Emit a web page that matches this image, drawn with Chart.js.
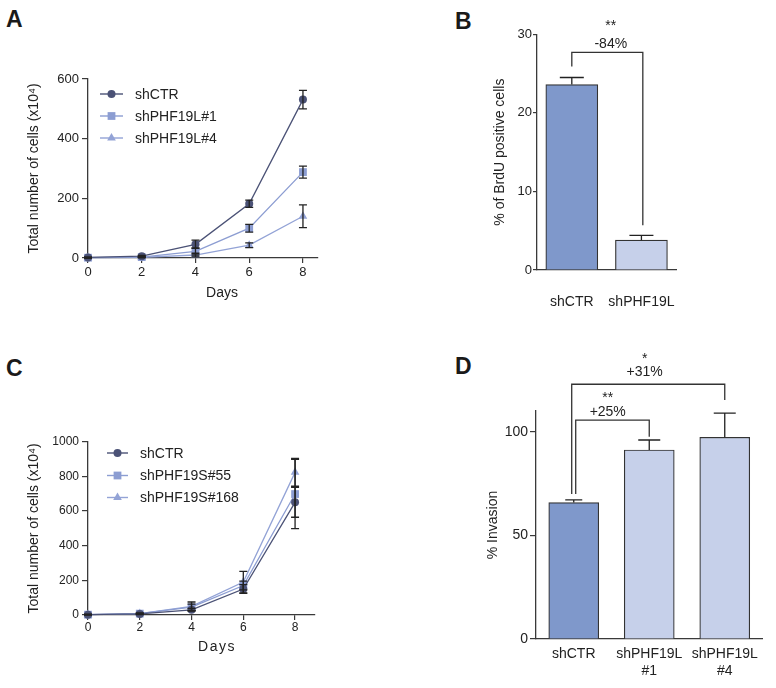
<!DOCTYPE html>
<html lang="en">
<head>
  <meta charset="UTF-8" />
  <title>PHF19 proliferation and invasion</title>
  <script src="https://cdn.jsdelivr.net/npm/chart.js"></script>
  <style>
    body { margin: 0; background: #fff; }
    #fig { position: relative; width: 776px; height: 688px; background: #fff; overflow: hidden; }
    #fig canvas { position: absolute; }
    .lbl { position: absolute; font: bold 23px "Liberation Sans", Arial, sans-serif; line-height: 23px; color: #1a1a1a; }
  </style>
</head>
<body>
  <div id="fig">
    <div class="lbl" style="left:6px;top:8px">A</div>
    <div class="lbl" style="left:455px;top:10px">B</div>
    <div class="lbl" style="left:6px;top:357px">C</div>
    <div class="lbl" style="left:455px;top:355px">D</div>
    <canvas id="chartA" width="340" height="260" style="left:0;top:50px"></canvas>
    <canvas id="chartB" width="260" height="320" style="left:440px;top:0"></canvas>
    <canvas id="chartC" width="340" height="260" style="left:0;top:400px"></canvas>
    <canvas id="chartD" width="336" height="348" style="left:440px;top:340px"></canvas>
  </div>

  <script>
    // ---- data ----
    const days = [0, 2, 4, 6, 8];

    // A: growth curves, PHF19L knockdown
    const aNames = ['shCTR', 'shPHF19L#1', 'shPHF19L#4'];
    const aCtr = [2, 6, 46, 182, 531];
    const aCtrErr = [1, 3, 14, 12, 31];
    const aL1 = [1, 3, 22, 100, 288];
    const aL1Err = [1, 2, 12, 13, 20];
    const aL4 = [1, 2, 10, 43, 140];
    const aL4Err = [1, 1, 6, 8, 38];

    // B: BrdU
    const bLabels = ['shCTR', 'shPHF19L'];
    const bValues = [23.6, 3.8];
    const bErr = [0.9, 0.6];

    // C: growth curves, PHF19S knockdown
    const cNames = ['shCTR', 'shPHF19S#55', 'shPHF19S#168'];
    const cCtr = [2, 6, 30, 150, 650];
    const cCtrErr = [1, 3, 8, 25, 86];
    const cS55 = [2, 8, 45, 170, 698];
    const cS55Err = [1, 3, 18, 25, 200];
    const cS168 = [2, 8, 50, 190, 823];
    const cS168Err = [1, 3, 25, 62, 80];

    // D: invasion
    const dLabels = [['shCTR'], ['shPHF19L', '#1'], ['shPHF19L', '#4']];
    const dValues = [65.8, 91.2, 97.3];
    const dErr = [1.3, 4.8, 11.7];

    // significance marks (data units)
    const bBrackets = [{ x1: 0, x2: 1.02, y1: 25.9, y2: 5.7, top: 27.7 }];
    const bNotes = [{ x: 0.56, y: 30.5, text: '**' }, { x: 0.56, y: 28.2, text: '-84%' }];
    const dBrackets = [
      { x1: 0.026, x2: 1.0, y1: 70, y2: 97.6, top: 105.6 },
      { x1: -0.027, x2: 2.0, y1: 70, y2: 115.3, top: 122.9 }
    ];
    const dNotes = [
      { x: 0.45, y: 114.3, text: '**' }, { x: 0.45, y: 107.6, text: '+25%' },
      { x: 0.94, y: 133.1, text: '*' }, { x: 0.94, y: 126.9, text: '+31%' }
    ];

    // ---- style ----
    const FONT = '"Liberation Sans", Arial, Helvetica, sans-serif';
    const AXIS = '#3a3a3a';
    const INK = '#222';
    const NAVY = '#4b5276';
    const BLUE = '#8c9dd2';
    const BLUE2 = '#93a3d6';
    const BAR_DARK = '#7f98cb';
    const BAR_LIGHT = '#c6d0ea';

    Chart.defaults.font.family = FONT;
    Chart.defaults.color = INK;
    Chart.defaults.animation = false;

    function drawMarker(ctx, style, x, y, r) {
      ctx.beginPath();
      if (style === 'circle') {
        ctx.arc(x, y, r, 0, Math.PI * 2);
      } else if (style === 'rect') {
        const s = r * Math.SQRT1_2;
        ctx.rect(x - s, y - s, 2 * s, 2 * s);
      } else {
        ctx.moveTo(x, y - r);
        ctx.lineTo(x + r * 0.866, y + r * 0.5);
        ctx.lineTo(x - r * 0.866, y + r * 0.5);
        ctx.closePath();
      }
      ctx.fill();
    }

    // error bars, brackets, legend, x title
    const extras = {
      id: 'extras',
      afterDatasetsDraw(chart, args, opts) {
        const ctx = chart.ctx;
        const ys = chart.scales.y;
        ctx.save();
        ctx.strokeStyle = INK;
        ctx.lineWidth = 1.3;
        (opts.errors || []).forEach((errs, di) => {
          const meta = chart.getDatasetMeta(di);
          const ds = chart.data.datasets[di];
          errs.forEach((e, j) => {
            const el = meta.data[j];
            const raw = ds.data[j];
            const v = typeof raw === 'object' ? raw.y : raw;
            const top = ys.getPixelForValue(v + e);
            const bot = opts.upOnly ? el.y : ys.getPixelForValue(v - e);
            const cw = Array.isArray(opts.cap) ? opts.cap[j] : opts.cap;
            ctx.beginPath();
            ctx.moveTo(el.x, bot); ctx.lineTo(el.x, top);
            ctx.moveTo(el.x - cw, top); ctx.lineTo(el.x + cw, top);
            if (!opts.upOnly) { ctx.moveTo(el.x - cw, bot); ctx.lineTo(el.x + cw, bot); }
            ctx.stroke();
          });
        });
        ctx.restore();
      },
      afterDraw(chart, args, opts) {
        const ctx = chart.ctx;
        const xs = chart.scales.x, ys = chart.scales.y;
        const area = chart.chartArea;
        ctx.save();
        ctx.strokeStyle = '#333';
        ctx.lineWidth = 1.3;
        (opts.brackets || []).forEach(b => {
          const x1 = xs.getPixelForValue(b.x1), x2 = xs.getPixelForValue(b.x2);
          ctx.beginPath();
          ctx.moveTo(x1, ys.getPixelForValue(b.y1));
          ctx.lineTo(x1, ys.getPixelForValue(b.top));
          ctx.lineTo(x2, ys.getPixelForValue(b.top));
          ctx.lineTo(x2, ys.getPixelForValue(b.y2));
          ctx.stroke();
        });
        ctx.fillStyle = INK;
        ctx.font = '14px ' + FONT;
        ctx.textAlign = 'center';
        ctx.textBaseline = 'alphabetic';
        (opts.notes || []).forEach(n => {
          ctx.fillText(n.text, xs.getPixelForValue(n.x), ys.getPixelForValue(n.y));
        });

        if (opts.legend) {
          const lg = opts.legend;
          chart.data.datasets.forEach((ds, i) => {
            const y = area.top + lg.rows[i];
            const x0 = area.left + lg.line[0], x1 = area.left + lg.line[1];
            ctx.strokeStyle = ds.borderColor;
            ctx.lineWidth = 1.4;
            ctx.beginPath(); ctx.moveTo(x0, y); ctx.lineTo(x1, y); ctx.stroke();
            ctx.fillStyle = ds.pointBackgroundColor;
            drawMarker(ctx, ds.pointStyle, (x0 + x1) / 2, y, ds.pointRadius);
            ctx.fillStyle = INK;
            ctx.font = '14px ' + FONT;
            ctx.textAlign = 'left';
            ctx.textBaseline = 'middle';
            ctx.fillText(ds.label, area.left + lg.text, y + 1);
          });
        }

        if (opts.xTitle) {
          const t = opts.xTitle;
          ctx.fillStyle = INK;
          ctx.font = '14px ' + FONT;
          ctx.letterSpacing = (t.spacing || 0) + 'px';
          ctx.textAlign = 'center';
          ctx.textBaseline = 'alphabetic';
          ctx.fillText(t.text, (area.left + area.right) / 2 + t.dx, area.bottom + t.dy);
        }
        ctx.restore();
      }
    };

    function lineSet(label, vals, color, style, radius) {
      return {
        label,
        data: vals.map((v, i) => ({ x: days[i], y: v })),
        borderColor: color,
        backgroundColor: color,
        pointBackgroundColor: color,
        pointBorderColor: color,
        pointBorderWidth: 0,
        pointStyle: style,
        pointRadius: radius,
        borderWidth: 1.3,
        tension: 0,
        clip: false
      };
    }

    function yScale(o) {
      return {
        min: o.min, max: o.max,
        afterFit: s => { s.width = o.width; },
        ticks: { stepSize: o.step, includeBounds: false, padding: o.pad, font: { size: o.font }, color: INK,
                 callback: v => String(v) },
        grid: { drawOnChartArea: false, drawTicks: true, tickLength: o.tl, color: AXIS, lineWidth: 1.2 },
        border: { display: true, color: AXIS, width: 1.3 },
        title: { display: true, text: o.title, font: { size: 14 }, color: INK, padding: { top: o.titlePad } }
      };
    }

    function lineChart(id, sets, errs, o) {
      return new Chart(document.getElementById(id), {
        type: 'line',
        data: { datasets: sets },
        options: {
          responsive: false,
          maintainAspectRatio: false,
          layout: { padding: { top: o.padTop, right: o.padRight, left: 0, bottom: 0 } },
          scales: {
            x: {
              type: 'linear', min: 0, max: o.xMax,
              afterFit: s => { s.height = o.xHeight; },
              ticks: { stepSize: 2, includeBounds: false, padding: o.xPad, font: { size: o.tickFont }, color: INK, maxRotation: 0 },
              grid: { drawOnChartArea: false, drawTicks: true, tickLength: 5, color: AXIS, lineWidth: 1.2 },
              border: { display: true, color: AXIS, width: 1.3 }
            },
            y: yScale({ min: 0, max: o.yMax, step: o.yStep, width: 88, pad: 3, tl: 6, font: o.tickFont,
                        title: 'Total number of cells (x10\u2074)', titlePad: 26 })
          },
          plugins: {
            legend: { display: false },
            tooltip: { enabled: false },
            extras: { errors: errs, cap: 4, upOnly: false, legend: o.legend,
                      xTitle: { text: 'Days', dx: o.titleDx, dy: o.titleDy, spacing: o.titleSpacing } }
          }
        },
        plugins: [extras]
      });
    }

    function barChart(id, labels, values, errs, o) {
      return new Chart(document.getElementById(id), {
        type: 'bar',
        data: {
          labels,
          datasets: [{
            data: values,
            backgroundColor: o.colors,
            borderColor: '#333',
            borderWidth: 1.2,
            borderSkipped: 'start',
            barThickness: o.barWidth
          }]
        },
        options: {
          responsive: false,
          maintainAspectRatio: false,
          layout: { padding: { top: o.padTop, right: o.padRight, left: 0, bottom: 0 } },
          scales: {
            x: {
              afterFit: s => { s.height = o.xHeight; },
              ticks: { padding: o.xPad, font: { size: 14, lineHeight: o.lineHeight }, color: INK, maxRotation: 0, autoSkip: false },
              grid: { display: false, drawTicks: false, tickLength: 0 },
              border: { display: true, color: AXIS, width: 1.3 }
            },
            y: yScale(o.y)
          },
          plugins: {
            legend: { display: false },
            tooltip: { enabled: false },
            extras: { errors: [errs], cap: o.cap, upOnly: true, brackets: o.brackets, notes: o.notes }
          }
        },
        plugins: [extras]
      });
    }

    // A
    lineChart('chartA', [
      lineSet(aNames[0], aCtr, NAVY, 'circle', 4),
      lineSet(aNames[1], aL1, BLUE, 'rect', 5.5),
      lineSet(aNames[2], aL4, BLUE2, 'triangle', 5)
    ], [aCtrErr, aL1Err, aL4Err], {
      padTop: 29, padRight: 22, xHeight: 52, xMax: 8.56, yMax: 600, yStep: 200,
      tickFont: 13, xPad: 1.5, titleDx: 19, titleDy: 39, titleSpacing: 0,
      legend: { line: [12, 35], text: 47, rows: [15, 37, 59] }
    });

    // B
    barChart('chartB', bLabels, bValues, bErr, {
      colors: [BAR_DARK, BAR_LIGHT], barWidth: 52, padTop: 34.3, padRight: 6, xHeight: 50,
      xPad: 24, lineHeight: 1.2, cap: 12,
      y: { min: 0, max: 30, step: 10, width: 97, pad: 1, tl: 4, font: 13, title: '% of BrdU positive cells', titlePad: 51.6 },
      brackets: bBrackets, notes: bNotes
    });

    // C
    lineChart('chartC', [
      lineSet(cNames[0], cCtr, NAVY, 'circle', 4),
      lineSet(cNames[1], cS55, BLUE, 'rect', 5.5),
      lineSet(cNames[2], cS168, BLUE2, 'triangle', 5)
    ], [cCtrErr, cS55Err, cS168Err], {
      padTop: 41.7, padRight: 25, xHeight: 45, xMax: 8.77, yMax: 1000, yStep: 200,
      tickFont: 12, xPad: 0, titleDx: 15.5, titleDy: 36, titleSpacing: 1.5,
      legend: { line: [19, 40], text: 52, rows: [11.3, 33.8, 55.8] }
    });

    // D
    barChart('chartD', dLabels, dValues, dErr, {
      colors: [BAR_DARK, BAR_LIGHT, BAR_LIGHT], barWidth: 50, padTop: 71, padRight: 13.5, xHeight: 49,
      xPad: 7, lineHeight: 1.2, cap: [8.5, 11, 11],
      y: { min: 0, max: 110, step: 50, width: 96, pad: 2, tl: 6, font: 14, title: '% Invasion', titlePad: 45 },
      brackets: dBrackets, notes: dNotes
    });
  </script>
</body>
</html>
